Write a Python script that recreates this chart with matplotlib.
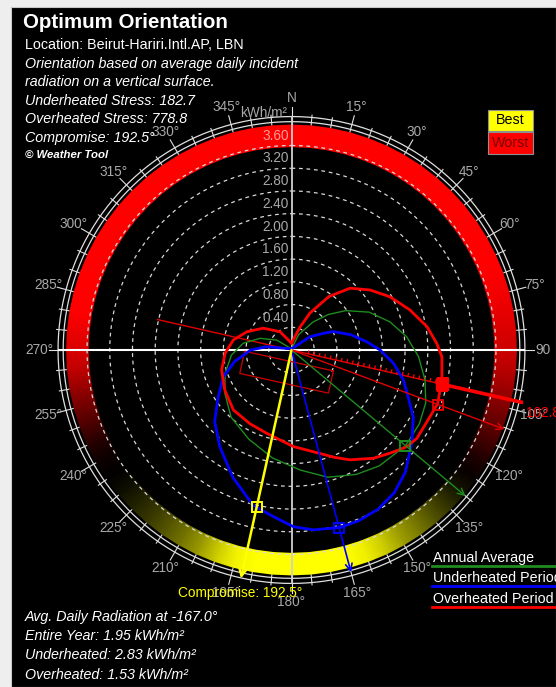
"""Optimum orientation polar chart for Beirut-Hariri Intl AP (vertical surface radiation)."""
import numpy as np
import matplotlib
matplotlib.use("Agg")
import matplotlib.pyplot as plt
from matplotlib.colors import LinearSegmentedColormap

plt.rcParams["font.family"] = ["Liberation Sans", "DejaVu Sans"]

W, H = 556, 687

# average daily incident radiation (kWh/m2) by facing direction (deg from north, clockwise)
annual_theta = [0, 25, 37.5, 46, 54, 64, 74, 83.4, 93, 102.7, 111.5, 120, 130, 142.8, 152.5,
                164, 175.8, 190, 205.6, 222, 236.9, 250.7, 265.2, 277.9, 290.4, 304, 360]
annual_r = [0.02, 0.30, 0.62, 0.90, 1.18, 1.52, 1.80, 2.04, 2.24, 2.41, 2.54, 2.60, 2.62, 2.56, 2.47,
            2.33, 2.12, 1.93, 1.74, 1.59, 1.40, 1.24, 1.06, 0.86, 0.59, 0.31, 0.02]

under_theta = [0, 51.8, 54.3, 62.3, 66, 75.6, 83.7, 90, 97.4, 105, 111.8, 118.9, 127.8, 137, 144.4,
               151.5, 158.4, 164.6, 173.1, 179.4, 186.2, 193.8, 204.7, 216.5, 227, 237.5, 248.6,
               258.6, 270, 277.6, 360]
under_r = [0.02, 0.19, 0.40, 0.63, 0.80, 1.08, 1.33, 1.56, 1.81, 2.04, 2.21, 2.45, 2.68, 2.94, 3.10,
           3.19, 3.23, 3.24, 3.19, 3.11, 2.95, 2.82, 2.47, 2.12, 1.85, 1.53, 1.29,
           1.02, 0.72, 0.44, 0.02]

over_theta = [0, 20.3, 26.6, 35, 43.5, 52.6, 61.6, 71.3, 80.2, 87.4, 92.6, 101.3, 110.2, 117.4,
              125.2, 130, 136.4, 142.9, 152, 158, 164.6, 178.9, 196.6, 209.5, 224.1, 239, 254,
              267.2, 279.7, 292.2, 307.6, 327.9, 360]
over_r = [0.12, 0.43, 0.73, 1.15, 1.50, 1.74, 1.97, 2.20, 2.42, 2.56, 2.65, 2.70, 2.74, 2.70,
          2.70, 2.65, 2.51, 2.39, 2.19, 2.04, 1.89, 1.70, 1.53, 1.49, 1.47, 1.37, 1.28,
          1.17, 1.04, 0.85, 0.63, 0.38, 0.12]

# stress score around the compass, every 5 deg: +1 worst (red), -1 best (yellow)
stress_theta = list(range(0, 360, 5))
stress_score = [1, 1, 1, 1, 1, 1, 1, 1, 1, 1, 1, 1, 1, 1, 0.98, 0.95, 0.9, 0.85,
                0.8, 0.72, 0.62, 0.5, 0.38, 0.25, 0.12, 0.03, -0.08, -0.2, -0.33, -0.48, -0.62, -0.8,
                -0.93, -1, -1, -1, -1, -1, -1, -0.95, -0.8, -0.6, -0.45, -0.33, -0.22, -0.14, -0.06, 0.0,
                0.05, 0.15, 0.3, 0.45, 0.6, 0.75, 0.85, 0.92, 1, 1, 1, 1, 1, 1, 1, 1,
                1, 1, 1, 1, 1, 1, 1, 1]

ring_ticks = [0.40, 0.80, 1.20, 1.60, 2.00, 2.40, 2.80, 3.20, 3.60]

best_annual = (130.0, 2.62)
best_under = (165.0, 3.24)
worst_over = (110.4, 2.76)
over_axis = (102.8, 2.71)
compromise = (192.5, 2.83)

header_lines = [
    ("Orientation based on average daily incident", 64),
    ("radiation on a vertical surface.", 82),
    ("Underheated Stress: 182.7", 101),
    ("Overheated Stress: 778.8", 119),
    ("Compromise: 192.5°", 138),
]
footer_lines = [
    ("Avg. Daily Radiation at -167.0°", 617),
    ("Entire Year: 1.95 kWh/m²", 636),
    ("Underheated: 2.83 kWh/m²", 655),
    ("Overheated: 1.53 kWh/m²", 675),
]
legend_items = [("Annual Average", "#1e8c1e", 558), ("Underheated Period", "#0000ff", 578),
                ("Overheated Period", "#ff0000", 599)]

GREEN, BLUE, RED, YELLOW = "#1e8c1e", "#0000ff", "#ff0000", "#ffff00"
GRAY = "#a8a8a8"
FS = 10.3


def fx(px):
    return px / W


def fy(py):
    return 1 - py / H


fig = plt.figure(figsize=(W / 100, H / 100), dpi=100, facecolor="#eeeeee")
fig.patches.append(plt.Rectangle((fx(11), 0), 1 - fx(11), fy(7), transform=fig.transFigure,
                                 facecolor="black", edgecolor="#c8c8c8", lw=0.8, zorder=-10))

# polar axes: centre at (291.5, 350) px, 56.8 px per kWh/m2
cx, cy, ppu, rmax = 291.5, 350, 56.8, 4.5
rad = rmax * ppu
ax = fig.add_axes([fx(cx - rad), fy(cy + rad), 2 * rad / W, 2 * rad / H], projection="polar")
ax.set_theta_zero_location("N")
ax.set_theta_direction(-1)
ax.set_ylim(0, rmax)
ax.set_facecolor("none")
ax.grid(False)
ax.set_xticks([])
ax.set_yticks([])
ax.spines["polar"].set_visible(False)

# stress ring
cmap = LinearSegmentedColormap.from_list("stress", [YELLOW, "#000000", RED])
th = np.deg2rad(stress_theta + [360])
sc = np.array(stress_score + [stress_score[0]])
T, R = np.meshgrid(th, [3.58, 3.96])
ax.pcolormesh(T, R, np.vstack([sc, sc]), cmap=cmap, vmin=-1, vmax=1, shading="gouraud", zorder=1)

full = np.linspace(0, 2 * np.pi, 361)
for r in ring_ticks:
    ax.plot(full, np.full_like(full, r), color="#d8d8d8", lw=0.9, ls=(0, (3, 3)), zorder=2)
for r in (4.02, 4.11):
    ax.plot(full, np.full_like(full, r), color="#e0e0e0", lw=0.9, zorder=2, clip_on=False)

for a in range(0, 360, 5):
    outer = 4.27 if a % 15 == 0 else 4.15
    ax.plot([np.deg2rad(a)] * 2, [3.98, outer], color="#e0e0e0", lw=0.8, zorder=2, clip_on=False)

# cross hairs
ax.plot([0, np.pi], [4.1, 4.1], color="#d0d0d0", lw=1.3, zorder=3, clip_on=False)
ax.plot([np.pi / 2, 3 * np.pi / 2], [4.1, 4.1], color="white", lw=1.5, zorder=3, clip_on=False)

for a in range(0, 360, 15):
    label = "N" if a == 0 else ("90" if a == 90 else f"{a}°")
    ax.text(np.deg2rad(a), 4.43, label, color=GRAY, fontsize=9.8, ha="center", va="center",
            clip_on=False, zorder=4)
ax.text(np.deg2rad(-6.8), 4.2, "kWh/m²", color=GRAY, fontsize=9.8, ha="center", va="center", zorder=4)
fig.text(fx(526), fy(413), "102.8°", color=RED, fontsize=9.8, ha="left", va="center", zorder=5)

for r in ring_ticks:
    ax.annotate(f"{r:.2f}", (0, r), xytext=(-2, 2), textcoords="offset points", ha="right",
                va="bottom", color="#ff9a9a" if r > 3.5 else GRAY, fontsize=9.8, zorder=4)

# building footprint facing the compromise direction
face = np.deg2rad(compromise[0])
u = np.array([np.sin(face), np.cos(face)])
v = np.array([u[1], -u[0]])
centre = 0.40 * u
corners = [centre + sl * 0.8 * v + sw * 0.2 * u for sl, sw in [(-1, -1), (1, -1), (1, 1), (-1, 1), (-1, -1)]]
ax.plot([np.arctan2(p[0], p[1]) for p in corners], [np.hypot(*p) for p in corners],
        color="#d00000", lw=0.9, zorder=5)

# overheated axis with comb
oa = np.deg2rad(over_axis[0])
ax.plot([oa + np.pi, 0, oa], [2.42, 0, 4.15], color="#e00000", lw=1.0, zorder=5, clip_on=False)
ax.plot([oa, oa], [over_axis[1], 4.15], color=RED, lw=2.6, zorder=5, clip_on=False)
for d in np.arange(0.3, over_axis[1], 0.1):
    p = d * np.array([np.sin(oa), np.cos(oa)])
    q = p + 0.05 * np.array([np.sin(oa - np.pi / 2), np.cos(oa - np.pi / 2)])
    ax.plot([np.arctan2(p[0], p[1]), np.arctan2(q[0], q[1])], [np.hypot(*p), np.hypot(*q)],
            color=RED, lw=0.9, zorder=5)

# radiation curves
ax.plot(np.deg2rad(annual_theta), annual_r, color=GREEN, lw=1.0, zorder=6)
ax.plot(np.deg2rad(under_theta), under_r, color=BLUE, lw=2.0, zorder=6)
ax.plot(np.deg2rad(over_theta), over_r, color=RED, lw=2.0, zorder=7)

# best/worst direction arrows
for (ang, val), color, length, lw in [(best_annual, GREEN, 4.0, 1.0), (best_under, BLUE, 4.05, 1.2),
                                      (worst_over, "#e00000", 4.0, 1.0), (compromise, YELLOW, 4.12, 1.8)]:
    ax.annotate("", xy=(np.deg2rad(ang), length), xytext=(0, 0),
                arrowprops=dict(arrowstyle="->", color=color, lw=lw, shrinkA=0, shrinkB=0,
                                mutation_scale=12), zorder=8, annotation_clip=False)
    ax.plot(np.deg2rad(ang), val, marker="s", ms=7, mfc="none", mec=color, mew=1.4, zorder=9)
ax.plot(np.deg2rad(over_axis[0]), over_axis[1], marker="s", ms=8, mfc=RED, mec=RED, zorder=9)

fig.text(fx(240), fy(593), "Compromise: 192.5°", color=YELLOW, fontsize=9.8, ha="center", va="center")

# header and footer notes
fig.text(fx(23), fy(22), "Optimum Orientation", color="white", fontsize=14.8, weight="bold", va="center")
fig.text(fx(25), fy(45), "Location: Beirut-Hariri.Intl.AP, LBN", color="white", fontsize=FS, va="center")
for txt, y in header_lines + footer_lines:
    fig.text(fx(25), fy(y), txt, color="white", fontsize=FS, style="italic", va="center")
fig.text(fx(25), fy(155), "© Weather Tool", color="white", fontsize=8.2, style="italic",
         weight="bold", va="center")

# best / worst key
for label, face_c, text_c, y0, y1 in [("Best", YELLOW, "black", 110, 131), ("Worst", RED, "#7a0000", 132, 154)]:
    fig.patches.append(plt.Rectangle((fx(488), fy(y1)), fx(533) - fx(488), fy(y0) - fy(y1),
                                     transform=fig.transFigure, facecolor=face_c, edgecolor="#909090", lw=0.8))
    fig.text(fx(510.5), fy((y0 + y1) / 2), label, color=text_c, fontsize=FS, ha="center", va="center")

# legend with coloured underlines
for label, color, y in legend_items:
    fig.text(fx(433), fy(y), label, color="white", fontsize=FS, va="center")
    fig.lines.append(plt.Line2D([fx(432), 1.0], [fy(y + 8)] * 2, transform=fig.transFigure,
                                color=color, lw=2.0))

fig.savefig("out.png", dpi=100, facecolor=fig.get_facecolor())
